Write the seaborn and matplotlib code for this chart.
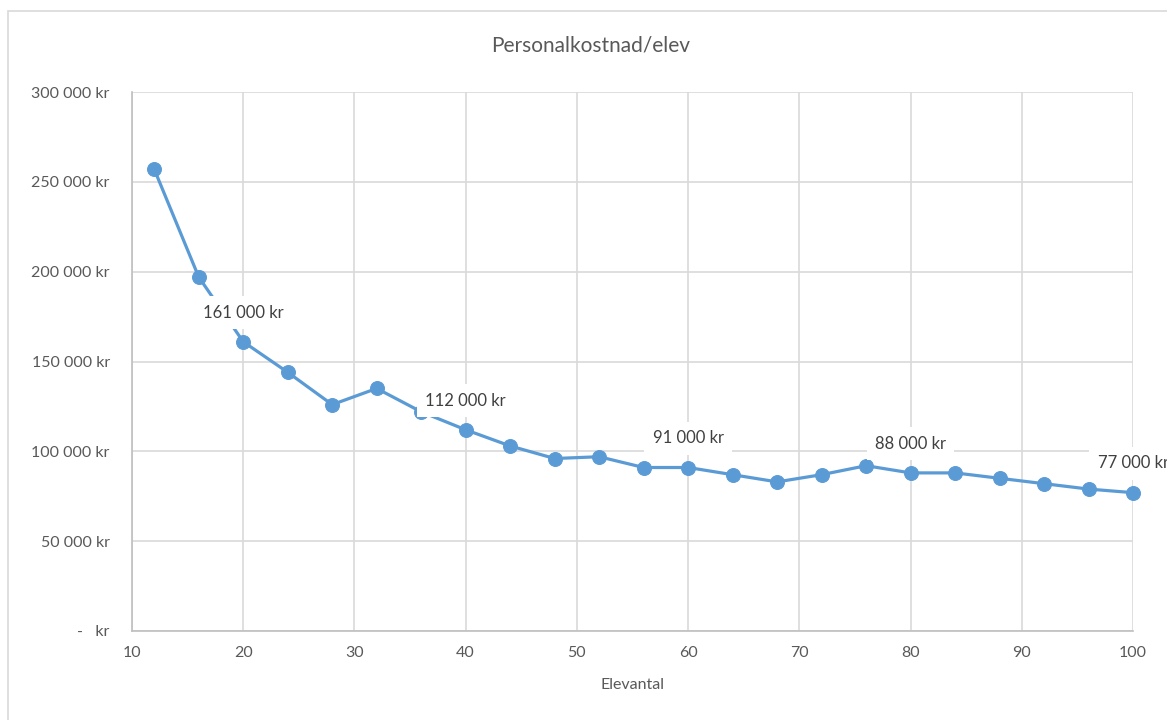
import matplotlib
matplotlib.use("Agg")
import matplotlib.pyplot as plt
from matplotlib.patches import Rectangle
from matplotlib.ticker import FuncFormatter
import seaborn as sns
import pandas as pd

# Data.
elevantal = [12, 16, 20, 24, 28, 32, 36, 40, 44, 48, 52, 56,
             60, 64, 68, 72, 76, 80, 84, 88, 92, 96, 100]
kostnad = [257000, 197000, 161000, 144000, 126000, 135000, 122000, 112000,
           103000, 96000, 97000, 91000, 91000, 87000, 83000, 87000, 92000,
           88000, 88000, 85000, 82000, 79000, 77000]
labelled = [20, 40, 60, 80, 100]

df = pd.DataFrame({"Elevantal": elevantal, "Kostnad": kostnad})

sns.set_style("white")
plt.rcParams["font.family"] = ["Lato", "DejaVu Sans"]

TEXT = "#595959"
GRID = "#D9D9D9"
BLUE = "#5B9BD5"

fig = plt.figure(figsize=(11.67, 7.2), dpi=100)
ax = fig.add_axes([132 / 1167, 1 - 631 / 720, (1133 - 132) / 1167, (631 - 92) / 720])

sns.lineplot(data=df, x="Elevantal", y="Kostnad", ax=ax, color=BLUE,
             linewidth=2.3, marker="o", markersize=10,
             markeredgecolor=BLUE, zorder=3, clip_on=False)


def kr(v, pos=None):
    if v == 0:
        return "-   kr"
    return f"{int(round(v)):,}".replace(",", " ") + " kr"


# Data labels with white boxes, above the points.
for x, y in zip(elevantal, kostnad):
    if x in labelled:
        ax.annotate(kr(y), (x, y), xytext=(0, 21), textcoords="offset points",
                    ha="center", va="center", fontsize=12, color="#404040",
                    bbox=dict(boxstyle="square,pad=0.5", fc="white", ec="none"),
                    zorder=4, annotation_clip=False)

ax.set_xlim(10, 100)
ax.set_ylim(0, 300000)
ax.set_xticks(range(10, 101, 10))
ax.set_yticks(range(0, 300001, 50000))
ax.yaxis.set_major_formatter(FuncFormatter(kr))
ax.grid(True, color=GRID, linewidth=1.2, zorder=0)
ax.set_axisbelow(True)
ax.tick_params(axis="both", length=0, labelsize=11.5, colors=TEXT)
ax.tick_params(axis="y", pad=16)
ax.tick_params(axis="x", pad=11)
for s in ["top", "right"]:
    ax.spines[s].set_visible(False)
for s in ["left", "bottom"]:
    ax.spines[s].set_color("#BFBFBF")
    ax.spines[s].set_linewidth(1.2)

ax.set_xlabel("Elevantal", fontsize=11.5, color=TEXT, labelpad=13)
ax.set_ylabel("")
fig.text(591 / 1167, 1 - 46 / 720, "Personalkostnad/elev", ha="center",
         va="center", fontsize=15, color=TEXT)

# Outer chart border.
fig.patches.append(Rectangle((8 / 1167, -0.05), 1.2, 1 - 11 / 720 + 0.05,
                             transform=fig.transFigure, fill=False,
                             edgecolor=GRID, linewidth=1.2))

fig.savefig("out.png", dpi=100)
